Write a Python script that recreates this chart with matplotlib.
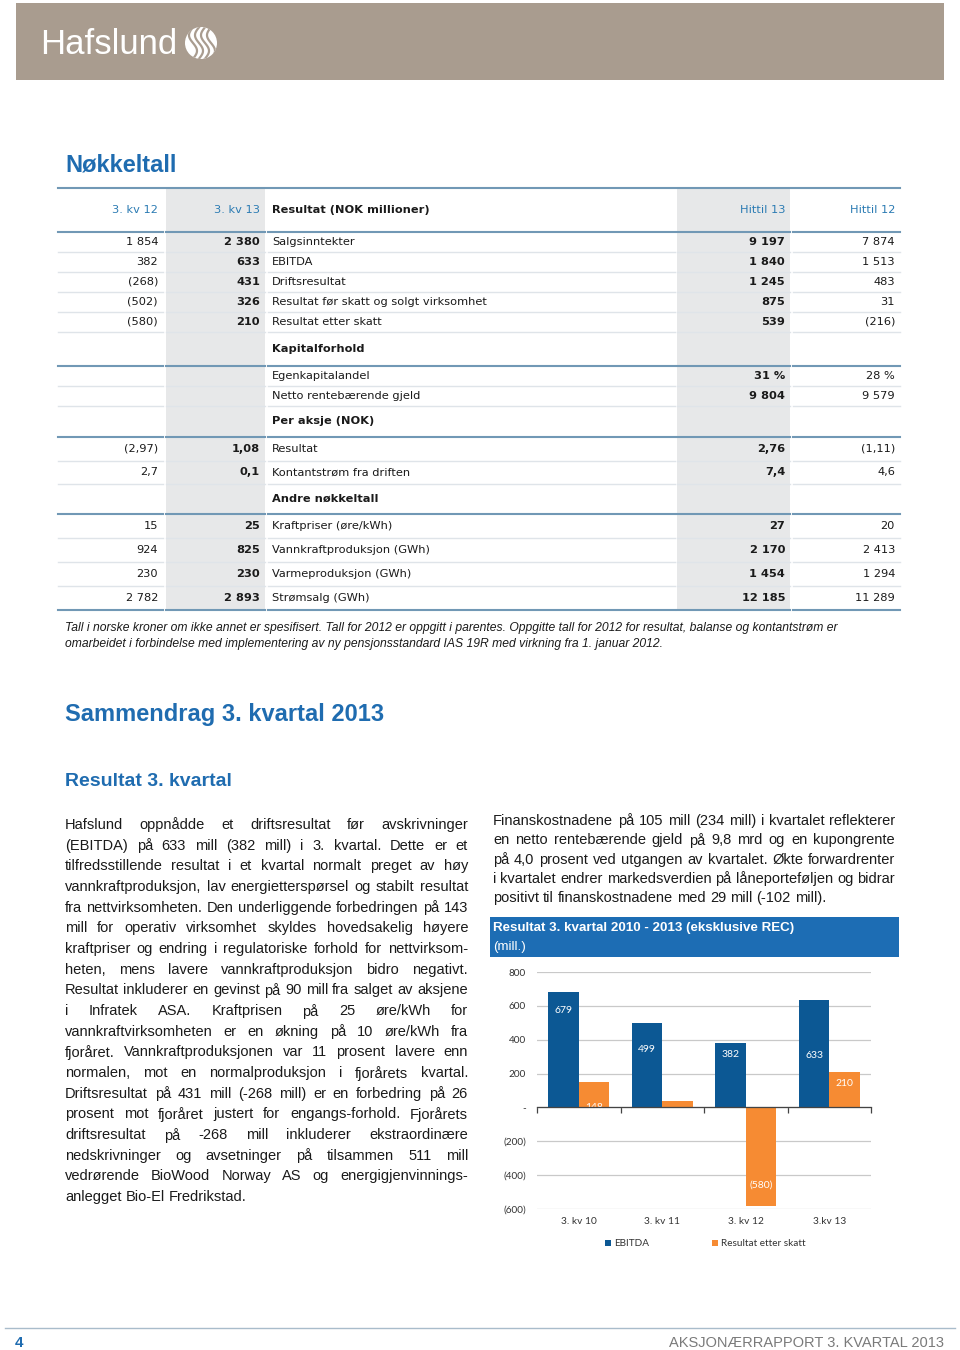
import numpy as np
import matplotlib
matplotlib.use("Agg")
import matplotlib.pyplot as plt
from matplotlib.patches import Rectangle, Circle
from matplotlib.ticker import FuncFormatter
from matplotlib.transforms import blended_transform_factory

# ---- table data ----
col_headers = ['3. kv 12', '3. kv 13', 'Resultat (NOK millioner)', 'Hittil 13', 'Hittil 12']

result_labels = ['Salgsinntekter', 'EBITDA', 'Driftsresultat',
                 'Resultat før skatt og solgt virksomhet', 'Resultat etter skatt']
result_kv12 = ['1 854', '382', '(268)', '(502)', '(580)']
result_kv13 = ['2 380', '633', '431', '326', '210']
result_h13 = ['9 197', '1 840', '1 245', '875', '539']
result_h12 = ['7 874', '1 513', '483', '31', '(216)']

kapital_labels = ['Egenkapitalandel', 'Netto rentebærende gjeld']
kapital_kv12 = ['', '']
kapital_kv13 = ['', '']
kapital_h13 = ['31 %', '9 804']
kapital_h12 = ['28 %', '9 579']

aksje_labels = ['Resultat', 'Kontantstrøm fra driften']
aksje_kv12 = ['(2,97)', '2,7']
aksje_kv13 = ['1,08', '0,1']
aksje_h13 = ['2,76', '7,4']
aksje_h12 = ['(1,11)', '4,6']

andre_labels = ['Kraftpriser (øre/kWh)', 'Vannkraftproduksjon (GWh)',
                'Varmeproduksjon (GWh)', 'Strømsalg (GWh)']
andre_kv12 = ['15', '924', '230', '2 782']
andre_kv13 = ['25', '825', '230', '2 893']
andre_h13 = ['27', '2 170', '1 454', '12 185']
andre_h12 = ['20', '2 413', '1 294', '11 289']

# ---- chart data ----
quarters = ['3. kv 10', '3. kv 11', '3. kv 12', '3.kv 13']
ebitda = [679, 499, 382, 633]
resultat = [148, 40, -580, 210]
ebitda_labels = ['679', '499', '382', '633']
resultat_labels = ['148', '', '(580)', '210']
ebitda_label_at = [573, 343, 314, 309]
resultat_label_at = [0, 0, -459, 144]

# ---- text ----
footnote = ["Tall i norske kroner om ikke annet er spesifisert. Tall for 2012 er oppgitt i parentes. "
            "Oppgitte tall for 2012 for resultat, balanse og kontantstrøm er",
            "omarbeidet i forbindelse med implementering av ny pensjonsstandard IAS 19R med virkning fra 1. januar 2012."]

left_lines = [
    "Hafslund oppnådde et driftsresultat før avskrivninger",
    "(EBITDA) på 633 mill (382 mill) i 3. kvartal. Dette er et",
    "tilfredsstillende resultat i et kvartal normalt preget av høy",
    "vannkraftproduksjon, lav energietterspørsel og stabilt resultat",
    "fra nettvirksomheten. Den underliggende forbedringen på 143",
    "mill for operativ virksomhet skyldes hovedsakelig høyere",
    "kraftpriser og endring i regulatoriske forhold for nettvirksom-",
    "heten, mens lavere vannkraftproduksjon bidro negativt.",
    "Resultat inkluderer en gevinst på 90 mill fra salget av aksjene",
    "i Infratek ASA. Kraftprisen på 25 øre/kWh for",
    "vannkraftvirksomheten er en økning på 10 øre/kWh fra",
    "fjoråret. Vannkraftproduksjonen var 11 prosent lavere enn",
    "normalen, mot en normalproduksjon i fjorårets kvartal.",
    "Driftsresultat på 431 mill (-268 mill) er en forbedring på 26",
    "prosent mot fjoråret justert for engangs-forhold. Fjorårets",
    "driftsresultat på -268 mill inkluderer ekstraordinære",
    "nedskrivninger og avsetninger på tilsammen 511 mill",
    "vedrørende BioWood Norway AS og energigjenvinnings-",
    "anlegget Bio-El Fredrikstad.",
]

right_lines = [
    "Finanskostnadene på 105 mill (234 mill) i kvartalet reflekterer",
    "en netto rentebærende gjeld på 9,8 mrd og en kupongrente",
    "på 4,0 prosent ved utgangen av kvartalet. Økte forwardrenter",
    "i kvartalet endrer markedsverdien på låneporteføljen og bidrar",
    "positivt til finanskostnadene med 29 mill (-102 mill).",
]

BAND = '#a99c8f'
HEAD_BLUE = '#1f6cb0'
TAB_BLUE = '#2b7bb3'
RULE = '#7198b5'
THIN = '#dfe4e9'
GRAY_COL = '#e7e8e9'
C_EBITDA = '#0c5894'
C_RES = '#f68b33'
TXT = '#1a1a1a'
ARIAL = ['Liberation Sans', 'DejaVu Sans']
TABLE_FONT = ['DejaVu Sans']
CHART_FONT = ['Lato', 'DejaVu Sans']

fig = plt.figure(figsize=(9.6, 13.5), dpi=100)
page = fig.add_axes([0, 0, 1, 1])
page.set_xlim(0, 960)
page.set_ylim(1350, 0)
page.axis('off')
renderer = fig.canvas.get_renderer()

# --- header band + logo ---
page.add_patch(Rectangle((16, 3), 928, 77, color=BAND, lw=0))
page.text(40, 44, 'Hafslund', color='white', fontsize=25, va='center', ha='left',
          family=ARIAL)
logo = Circle((201, 43), 16, color='white', lw=0)
page.add_patch(logo)
t = np.linspace(-18, 18, 60)
for off in (-8, -2, 4, 10):
    ln, = page.plot(201 + off + 4 * np.sin(t / 5), 43 + t, color=BAND, lw=1.6)
    ln.set_clip_path(logo)

# --- Nøkkeltall table ---
page.text(65, 165, 'Nøkkeltall', color=HEAD_BLUE, fontsize=17, fontweight='bold',
          va='center', family=ARIAL)

cols = [(58, 163), (166, 265), (268, 675), (677, 790), (793, 900)]
top, bottom = 188, 610
page.add_patch(Rectangle((166, top + 1), 99, bottom - top - 1, color=GRAY_COL, lw=0, zorder=0))
page.add_patch(Rectangle((677, top + 1), 113, bottom - top - 1, color=GRAY_COL, lw=0, zorder=0))
page.plot([58, 900], [top, top], color=RULE, lw=1.5)


def seg_line(y, color, lw):
    for x0, x1 in cols:
        page.plot([x0, x1], [y, y], color=color, lw=lw, zorder=1)


def cell_texts(y, label, vals, bold_label=False, header=False):
    kw = dict(fontsize=8.2, va='center', family=TABLE_FONT, zorder=3)
    right_x = [158, 260, None, 785, 895]
    for i, v in enumerate(vals):
        if i == 2:
            continue
        color = TAB_BLUE if header else TXT
        weight = 'bold' if (i in (1, 3) and not header) else 'normal'
        page.text(right_x[i], y, v, ha='right', color=color, fontweight=weight, **kw)
    page.text(272, y, label, ha='left', color=TXT,
              fontweight='bold' if bold_label else 'normal', **kw)


cell_texts(210, col_headers[2], col_headers, bold_label=True, header=True)
y = 232
seg_line(y, RULE, 1.5)

sections = [
    (None, 0, result_labels, result_kv12, result_kv13, result_h13, result_h12, 20),
    ('Kapitalforhold', 34, kapital_labels, kapital_kv12, kapital_kv13, kapital_h13, kapital_h12, 20),
    ('Per aksje (NOK)', 31, aksje_labels, aksje_kv12, aksje_kv13, aksje_h13, aksje_h12, 23.5),
    ('Andre nøkkeltall', 30, andre_labels, andre_kv12, andre_kv13, andre_h13, andre_h12, 24),
]
for si, (title, th, labels, a, b, c, d, rh) in enumerate(sections):
    if title:
        cell_texts(y + th / 2, title, ['', '', '', '', ''], bold_label=True)
        y += th
        seg_line(y, RULE, 1.5)
    for ri, lab in enumerate(labels):
        cell_texts(y + rh / 2, lab, [a[ri], b[ri], '', c[ri], d[ri]])
        y += rh
        last = si == len(sections) - 1 and ri == len(labels) - 1
        seg_line(y, RULE if last else THIN, 1.5 if last else 1.0)

for i, line in enumerate(footnote):
    page.text(65, 628 + 16 * i, line, fontsize=8.7, style='italic', va='center',
              color=TXT, family=ARIAL)

# --- Sammendrag ---
page.text(65, 715, 'Sammendrag 3. kvartal 2013', color=HEAD_BLUE, fontsize=17,
          fontweight='bold', va='center', family=ARIAL)
page.text(65, 781, 'Resultat 3. kvartal', color=HEAD_BLUE, fontsize=14,
          fontweight='bold', va='center', family=ARIAL)


def justify(lines, x0, x1, y0, dy, size):
    space = size * 0.278 * 100 / 72
    for i, line in enumerate(lines):
        yy = y0 + i * dy
        words = line.split()
        texts = [page.text(0, yy, w, fontsize=size, va='center', ha='left',
                           color=TXT, family=ARIAL) for w in words]
        widths = [tx.get_window_extent(renderer).width for tx in texts]
        gap = space
        if i < len(lines) - 1 and len(words) > 1:
            gap = (x1 - x0 - sum(widths)) / (len(words) - 1)
        x = x0
        for tx, w in zip(texts, widths):
            tx.set_x(x)
            x += w + gap


justify(left_lines, 65, 468, 825, 20.67, 10.5)
justify(right_lines, 493, 895, 821, 19.3, 10.5)

# --- chart title box ---
page.add_patch(Rectangle((490, 917), 409, 40, color='#1d6db4', lw=0))
page.text(493, 928, 'Resultat 3. kvartal 2010 - 2013 (eksklusive REC)', color='white',
          fontsize=9.6, fontweight='bold', va='center', family=ARIAL)
page.text(493, 947, '(mill.)', color='white', fontsize=9.6, va='center', family=ARIAL)

# --- bar chart ---
ax = fig.add_axes([537 / 960, 1 - 1209 / 1350, 334 / 960, 237 / 1350])
x = np.arange(len(quarters))
w = 0.365
ax.bar(x - w / 2, ebitda, w, color=C_EBITDA, zorder=2)
ax.bar(x + w / 2, resultat, w, color=C_RES, zorder=2)
ax.set_xlim(-0.5, len(quarters) - 0.5)
ax.set_ylim(-600, 800)
ax.set_yticks(np.arange(-600, 801, 200))
ax.yaxis.set_major_formatter(FuncFormatter(
    lambda v, p: '-' if v == 0 else (f'({-int(v)})' if v < 0 else f'{int(v)}')))
ax.yaxis.grid(True, color='#c9c9c9', lw=0.9, zorder=0)
for s in ('left', 'right', 'top'):
    ax.spines[s].set_visible(False)
ax.spines['bottom'].set_position(('data', 0))
ax.spines['bottom'].set_color('#444444')
ax.spines['bottom'].set_linewidth(0.9)
ax.spines['bottom'].set_zorder(4)
ax.set_xticks(np.arange(-0.5, len(quarters), 1.0))
ax.set_xticklabels([])
ax.tick_params(axis='x', direction='out', length=4, color='#444444', width=0.9)
ax.tick_params(axis='y', length=0, pad=8, labelsize=7.2, labelcolor='#333333')
for lab in ax.get_yticklabels():
    lab.set_family(CHART_FONT)

for i in range(len(quarters)):
    ax.text(x[i] - w / 2, ebitda_label_at[i], ebitda_labels[i], color='white', fontsize=7.5,
            ha='center', va='center', family=CHART_FONT, zorder=3)
    if resultat_labels[i]:
        ax.text(x[i] + w / 2, resultat_label_at[i], resultat_labels[i], color='white',
                fontsize=7.5, ha='center', va='center', family=CHART_FONT, zorder=3)

trans = blended_transform_factory(ax.transData, ax.transAxes)
for i, q in enumerate(quarters):
    ax.text(x[i], -0.052, q, transform=trans, ha='center', va='center', fontsize=7.3,
            color='#333333', family=CHART_FONT)

# legend
page.add_patch(Rectangle((605, 1240), 6, 6, color=C_EBITDA, lw=0))
page.text(614, 1243.5, 'EBITDA', fontsize=7.2, va='center', color='#333333',
          family=CHART_FONT)
page.add_patch(Rectangle((712, 1240), 6, 6, color=C_RES, lw=0))
page.text(721, 1243.5, 'Resultat etter skatt', fontsize=7.2, va='center', color='#333333',
          family=CHART_FONT)

# --- footer ---
page.plot([5, 955], [1328, 1328], color='#a9bccb', lw=1)
page.text(15, 1343, '4', color=HEAD_BLUE, fontsize=11, fontweight='bold', va='center',
          family=ARIAL)
page.text(944, 1343, 'AKSJONÆRRAPPORT 3. KVARTAL 2013', color='#7a7a7a', fontsize=10.5,
          ha='right', va='center', family=ARIAL)

fig.savefig('out.png', dpi=100)
